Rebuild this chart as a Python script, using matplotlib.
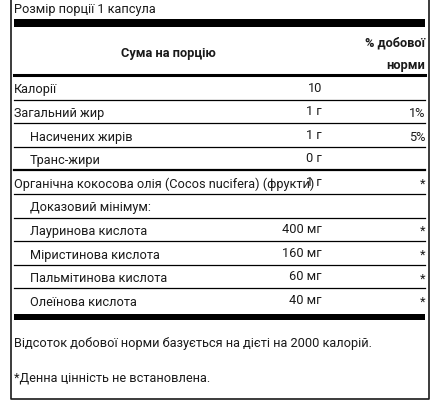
import matplotlib
matplotlib.use("Agg")
import matplotlib.pyplot as plt

labels = ["Калорії", "Загальний жир", "Насичених жирів", "Транс-жири",
          "Органічна кокосова олія (Cocos nucifera) (фрукти)", "Доказовий мінімум:",
          "Лауринова кислота", "Міристинова кислота", "Пальмітинова кислота", "Олеїнова кислота"]
amounts = ["10", "1 г", "1 г", "0 г", "1 г", "", "400 мг", "160 мг", "60 мг", "40 мг"]
percents = ["", "1%", "5%", "", "*", "", "*", "*", "*", "*"]
indent = [0, 0, 1, 1, 0, 1, 1, 1, 1, 1]

plt.rcParams['font.family'] = ['Roboto', 'DejaVu Sans']
fig = plt.figure(figsize=(4.39, 4.10), dpi=100)
ax = fig.add_axes([0, 0, 1, 1])
ax.set_xlim(0, 439); ax.set_ylim(410, 0); ax.axis('off')
c = '#1a1a1a'; fs = 9.2
L, R = 14, 425
ax.plot([11, 11, 429, 429], [-5, 400, 400, -5], color=c, lw=1.2)
ax.text(L, 9, "Розмір порції 1 капсула", fontsize=fs, color=c, va='center')
ax.fill_between([L, R], 20, 28, color='black', lw=0)
ax.text(168, 54, "Сума на порцію", fontsize=fs, color=c, va='center', ha='center', fontweight='bold')
ax.text(R, 43, "% добової", fontsize=fs, color=c, va='center', ha='right', fontweight='bold')
ax.text(R, 66, "норми", fontsize=fs, color=c, va='center', ha='right', fontweight='bold')
ax.plot([L, R], [76, 76], color='black', lw=2.2)
y0, step = 90, 23.6
for i, (lab, am, pc, ind) in enumerate(zip(labels, amounts, percents, indent)):
    y = y0 + i * step
    ax.text(L + 16 * ind, y, lab, fontsize=fs, color=c, va='center')
    ax.text(322, y - 2, am, fontsize=fs, color=c, va='center', ha='right')
    ax.text(R, y, pc, fontsize=fs, color=c, va='center', ha='right')
    if i < len(labels) - 1:
        yl = y + 10.5
        ax.plot([L, R], [yl, yl], color='black', lw=1.6 if i == 3 else 0.9)
ax.fill_between([L, R], 315, 320.5, color='black', lw=0)
ax.text(L, 344, "Відсоток добової норми базується на дієті на 2000 калорій.", fontsize=fs, color=c, va='center')
ax.text(L, 378, "*Денна цінність не встановлена.", fontsize=fs, color=c, va='center')
fig.savefig("out.png", dpi=100)
